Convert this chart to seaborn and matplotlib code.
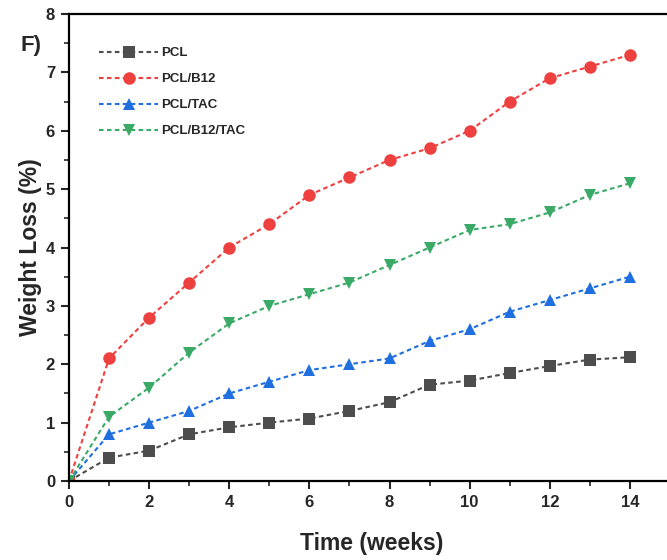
import matplotlib
matplotlib.use("Agg")
import matplotlib.pyplot as plt
import seaborn as sns
import pandas as pd
from matplotlib.ticker import MultipleLocator

weeks = list(range(0, 15))
series_names = ["PCL", "PCL/B12", "PCL/TAC", "PCL/B12/TAC"]
pcl = [0, 0.4, 0.52, 0.8, 0.92, 1.0, 1.07, 1.2, 1.35, 1.65, 1.72, 1.85, 1.97, 2.08, 2.12]
pcl_b12 = [0, 2.1, 2.8, 3.4, 4.0, 4.4, 4.9, 5.2, 5.5, 5.7, 6.0, 6.5, 6.9, 7.1, 7.3]
pcl_tac = [0, 0.8, 1.0, 1.2, 1.5, 1.7, 1.9, 2.0, 2.1, 2.4, 2.6, 2.9, 3.1, 3.3, 3.5]
pcl_b12_tac = [0, 1.1, 1.6, 2.2, 2.7, 3.0, 3.2, 3.4, 3.7, 4.0, 4.3, 4.4, 4.6, 4.9, 5.1]
x_ticks = [0, 2, 4, 6, 8, 10, 12, 14]
y_ticks = [0, 1, 2, 3, 4, 5, 6, 7, 8]

colors = ["#4d4d4d", "#ef4040", "#1f6fe0", "#3aaa66"]
markers = ["s", "o", "^", "v"]

rows = []
for name, vals in zip(series_names, [pcl, pcl_b12, pcl_tac, pcl_b12_tac]):
    for w, v in zip(weeks, vals):
        rows.append({"Time": w, "Loss": v, "Sample": name})
df = pd.DataFrame(rows)

sns.set_style("ticks")
plt.rcParams["font.family"] = ["Liberation Sans", "DejaVu Sans"]
plt.rcParams["font.weight"] = "bold"

fig = plt.figure(figsize=(6.67, 5.6), dpi=100)
ax = fig.add_axes([69/667, 79/560, 605/667, 467/560])

sns.lineplot(data=df, x="Time", y="Loss", hue="Sample", style="Sample",
             hue_order=series_names, style_order=series_names,
             palette=dict(zip(series_names, colors)),
             markers=dict(zip(series_names, markers)),
             dashes={n: (2.2, 1.6) for n in series_names},
             markersize=9, markeredgewidth=0, linewidth=1.5, ax=ax)

ax.set_xlim(0, 15.1)
ax.set_ylim(0, 8)
ax.set_xticks(x_ticks)
ax.set_yticks(y_ticks)
ax.xaxis.set_minor_locator(MultipleLocator(1))
ax.yaxis.set_minor_locator(MultipleLocator(0.5))
ax.tick_params(which="major", direction="out", length=6, width=1.5, labelsize=12, pad=4)
ax.tick_params(which="minor", direction="out", length=3.5, width=1.2)
for lab in ax.get_xticklabels() + ax.get_yticklabels():
    lab.set_fontweight("bold")
for s in ["left", "bottom", "top", "right"]:
    ax.spines[s].set_visible(True)
    ax.spines[s].set_linewidth(1.6)
    ax.spines[s].set_color("black")

ax.set_xlabel("Time (weeks)", fontsize=16.5, fontweight="bold", labelpad=16)
ax.set_ylabel("Weight Loss (%)", fontsize=16.5, fontweight="bold", labelpad=3)

leg = ax.legend(frameon=False, loc="upper left", bbox_to_anchor=(0.03, 0.955),
                handlelength=4.5, labelspacing=1.05, handletextpad=0.2,
                prop={"weight": "bold", "size": 9.5})

fig.text(20/667, 1 - 45/560, "F)", fontsize=16, fontweight="bold", va="center", ha="left")

fig.savefig("out.png", dpi=100)
